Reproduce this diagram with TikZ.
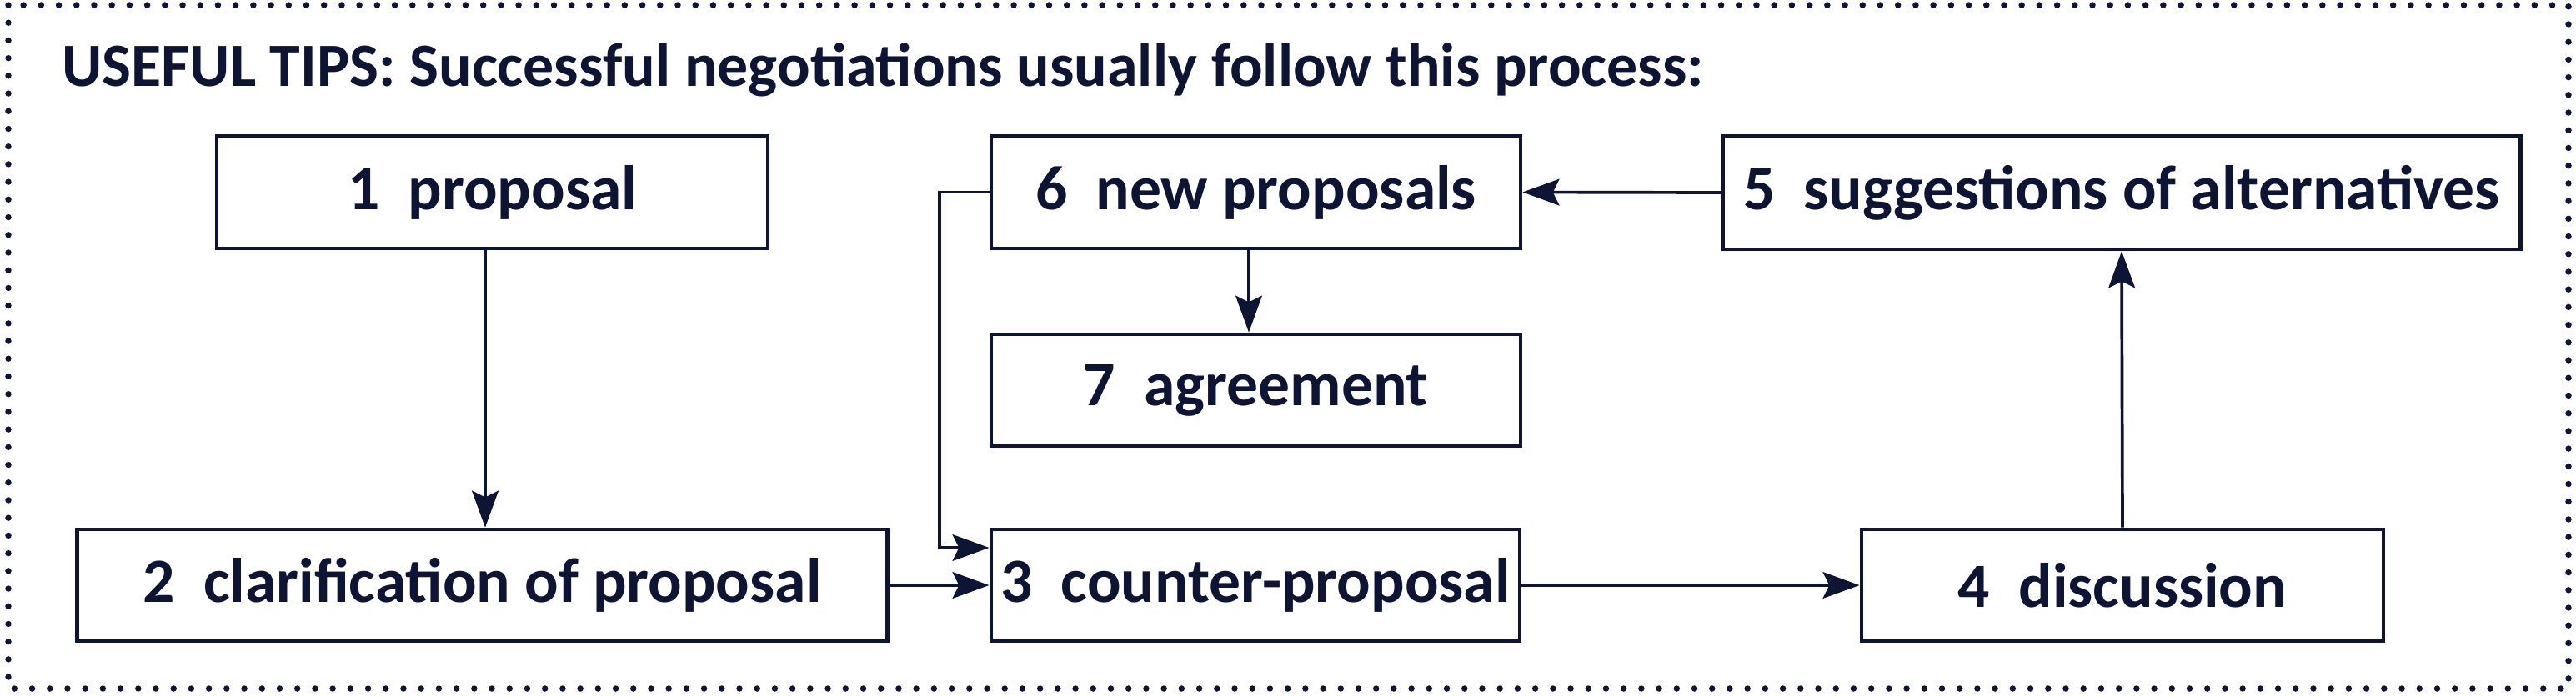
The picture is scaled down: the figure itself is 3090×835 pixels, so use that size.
\documentclass[tikz,border=0pt]{standalone}
\usepackage{fontspec}
\setmainfont{Carlito}
\usetikzlibrary{arrows.meta}
\definecolor{ink}{RGB}{14,20,52}
\begin{document}
\begin{tikzpicture}[x=0.01cm,y=-0.01cm,
  box/.style={draw=ink, line width=1.3pt, fill=white, text=ink, font=\fontsize{21.5}{25}\selectfont\bfseries, inner sep=0pt},
  conn/.style={draw=ink, line width=1.05pt},
  arr/.style={conn, -{Stealth[length=12.5pt,width=9pt,inset=2.2pt]}},
  frame/.style={draw=ink, line width=0.075cm, line cap=round, dash pattern=on 0pt off 0.212cm},
  ]
\useasboundingbox (0,0) rectangle (3090,835);
\fill[white] (0,0) rectangle (3090,835);
\draw[frame] (10,6) rectangle (3081,826);
\node[anchor=base west, text=ink, font=\fontsize{21}{25}\selectfont\bfseries, inner sep=0pt] (title) at (74,103) {USEFUL TIPS: Successful negotiations usually follow this process:};
\node[box, minimum width=6.61cm, minimum height=1.35cm] (b1) at (590.5,230.5) {1~~proposal};
\node[box, minimum width=9.71cm, minimum height=1.34cm] (b2) at (578.5,702) {2~~clarification of proposal};
\node[box, minimum width=6.34cm, minimum height=1.34cm] (b3) at (1506,702) {3~~counter-proposal};
\node[box, minimum width=6.26cm, minimum height=1.34cm] (b4) at (2546,702) {4~~discussion};
\node[box, minimum width=9.56cm, minimum height=1.36cm] (b5) at (2545,231) {5~~suggestions of alternatives};
\node[box, minimum width=6.35cm, minimum height=1.35cm] (b6) at (1506.5,230.5) {6~~new proposals};
\node[box, minimum width=6.35cm, minimum height=1.34cm] (b7) at (1506.5,468) {7~~agreement};
\coordinate (a12) at (582,0);
\coordinate (a67) at (1498,0);
\coordinate (loop) at (1127,657);
\draw[arr] (b1.south -| a12) -- (b2.north -| a12);
\draw[arr] (b2.east) -- (b3.west);
\draw[arr] (b3.east) -- (b4.west);
\draw[arr] (b4.north) -- (b5.south);
\draw[arr] (b5.west) -- (b6.east);
\draw[arr] (b6.south -| a67) -- (b7.north -| a67);
\draw[arr] (b6.west) -| (loop) -- (b3.west |- loop);
\end{tikzpicture}
\end{document}
